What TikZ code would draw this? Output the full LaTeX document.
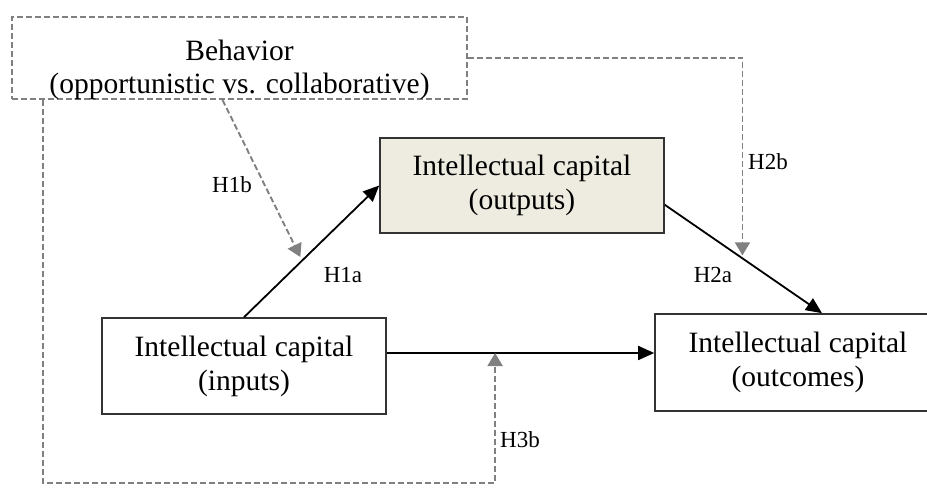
\documentclass[tikz,border=0pt]{standalone}
\usepackage{fontspec}
\setmainfont{Liberation Serif}
\usetikzlibrary{arrows.meta,calc}
\definecolor{capfill}{HTML}{EEECE1}
\definecolor{hypgray}{HTML}{808080}
\begin{document}
\begin{tikzpicture}[x=1pt,y=-1pt,
  capbox/.style={draw=black!80, line width=1.6pt, inner sep=0pt, align=center, font=\fontsize{29.5}{34}\selectfont},
  mainarr/.style={line width=1.8pt, -{Triangle[length=16pt,width=14pt]}},
  hyparr/.style={hypgray, line width=1.9pt, dash pattern=on 6pt off 3pt, -{Triangle[length=13pt,width=15pt]}},
  hyplab/.style={font=\fontsize{23}{26}\selectfont}]
\useasboundingbox (0,0) rectangle (927,489);
% boxes
\node[draw=hypgray, line width=1.9pt, dash pattern=on 6pt off 3pt, minimum width=455pt, minimum height=82pt, inner sep=0pt] (beh) at (239.5,58){};
\begin{scope}
\clip (beh.south west) rectangle (beh.north east);
\node[align=center, font=\fontsize{29.5}{33}\selectfont] (behtxt) at ([yshift=-12pt]beh.center){Behavior\\(opportunistic vs. collaborative)};
\end{scope}
\node[capbox, fill=capfill, minimum width=284pt, minimum height=95pt] (out) at (522,185.5){Intellectual capital\\(outputs)};
\node[capbox, minimum width=284pt, minimum height=96pt] (in) at (244,366){Intellectual capital\\(inputs)};
\node[capbox, minimum width=286pt, minimum height=97pt] (outc) at (798,362.5){Intellectual capital\\(outcomes)};
% main paths
\draw[mainarr](in.north) -- (out.west);
\draw[mainarr]($(out.east)!0.4!(out.south east)$) -- ([xshift=24pt]outc.north);
\draw[mainarr]([yshift=13pt]in.east) -- ([yshift=13pt]in.east -| outc.west);
% moderation points
\coordinate (h1) at ($(in.north)!0.43!(out.west)$);
\coordinate (h2) at ($($(out.east)!0.4!(out.south east)$)!0.494!([xshift=24pt]outc.north)$);
\coordinate (h3) at ($([yshift=13pt]in.east)!0.405!([yshift=13pt]in.east -| outc.west)$);
\draw[hyparr, shorten >=4pt]([xshift=-17pt]beh.south) -- (h1);
\draw[hyparr, shorten >=3pt](beh.east) -| (h2);
\draw[hyparr]([xshift=32pt]beh.south west) -- ++(0,383) -| (h3);
% labels
\node[hyplab] (l1a) at (343,275){H1a};
\node[hyplab] (l1b) at (232,185){H1b};
\node[hyplab] (l2a) at (713,275){H2a};
\node[hyplab] (l2b) at (768,162){H2b};
\node[hyplab] (l3b) at (520,440){H3b};
\end{tikzpicture}
\end{document}
